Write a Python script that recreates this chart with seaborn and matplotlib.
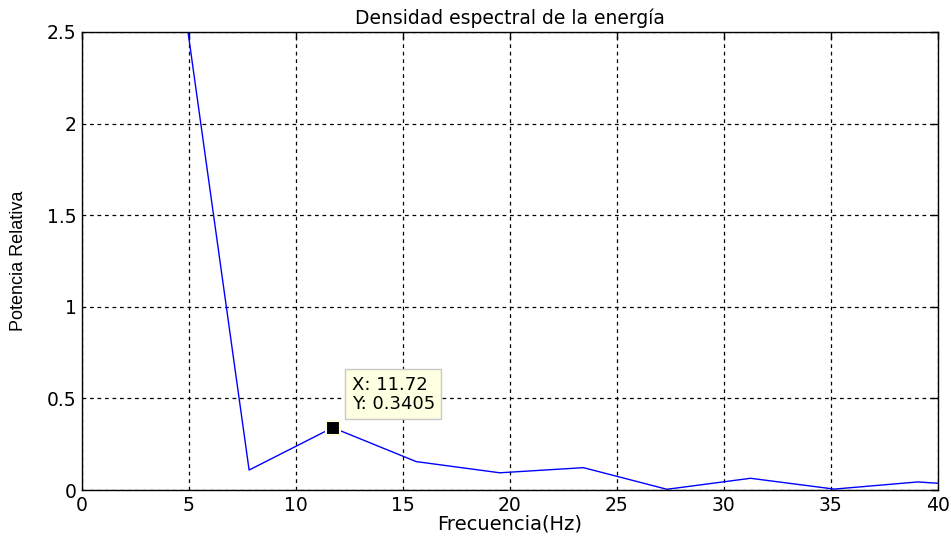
import numpy as np
import pandas as pd
import seaborn as sns
import matplotlib
matplotlib.use("Agg")
import matplotlib.pyplot as plt

# frecuencias (Hz) y potencia relativa
frecuencia = [0.0, 3.906, 7.8125, 11.72, 15.625, 19.53, 23.44, 27.34, 31.25, 35.16, 39.06, 42.97]
potencia = [8.0, 3.38, 0.109, 0.3405, 0.155, 0.094, 0.122, 0.004, 0.064, 0.005, 0.044, 0.015]

titulo = "Densidad espectral de la energía"
etiqueta_x = "Frecuencia(Hz)"
etiqueta_y = "Potencia Relativa"
punto_x = 11.72
punto_y = 0.3405

df = pd.DataFrame({"frecuencia": frecuencia, "potencia": potencia})

sns.set_style("white")
plt.rcParams["font.family"] = ["DejaVu Sans"]
plt.rcParams["text.color"] = "black"
plt.rcParams["axes.labelcolor"] = "black"

fig = plt.figure(figsize=(9.53, 5.37), dpi=100)
ax = fig.add_axes([0.086, 0.0875, 0.898, 0.853])

sns.lineplot(data=df, x="frecuencia", y="potencia", color="#0000ff",
             linewidth=1, ax=ax, sort=False)

ax.set_xlim(0, 40)
ax.set_ylim(0, 2.5)
ax.set_xticks(np.arange(0, 41, 5))
ax.set_yticks([0, 0.5, 1, 1.5, 2, 2.5])
ax.set_yticklabels(["0", "0.5", "1", "1.5", "2", "2.5"])

ax.grid(True, color="black", linestyle=(0, (3, 3)), linewidth=0.9)
ax.tick_params(direction="in", top=True, right=True, length=5,
               labelsize=13.5, colors="black", width=1, pad=4)
for s in ax.spines.values():
    s.set_color("black")
    s.set_linewidth(1)

ax.set_title(titulo, fontsize=13.5, pad=6)
ax.set_xlabel(etiqueta_x, fontsize=14, labelpad=0)
# la etiqueta vertical es mas estrecha en el original
ax.set_ylabel(etiqueta_y, fontsize=13, labelpad=14, family="Liberation Sans")

# marcador del cursor de datos
ax.plot([punto_x], [punto_y], marker="s", markersize=10, color="black",
        markeredgecolor="#ffffe1", markeredgewidth=1.5, zorder=5)
ax.annotate(f"X: {punto_x}\nY: {punto_y}", xy=(punto_x, punto_y),
            xytext=(12.6, 0.42), textcoords="data", fontsize=13,
            ha="left", va="bottom", linespacing=1.1,
            bbox=dict(boxstyle="square,pad=0.35", fc="#ffffe1", ec="#c8c8c8", lw=1),
            zorder=6)

fig.savefig("out.png", dpi=100)
